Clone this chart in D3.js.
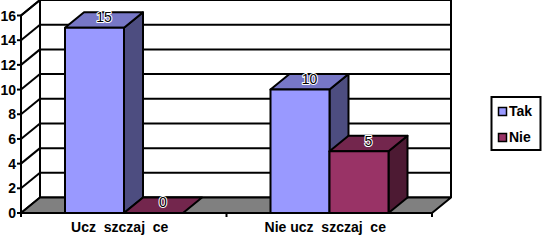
<!DOCTYPE html>
<html><head><meta charset="utf-8">
<script src="https://cdn.jsdelivr.net/npm/d3@7"></script>
<style>
html,body{margin:0;padding:0;background:#fff;}
svg{display:block;font-family:"Liberation Sans",Arial,sans-serif;}
</style></head>
<body><svg id="c" width="543" height="241"></svg>
<script>
const categories = ["Ucz  szczaj  ce", "Nie ucz  szczaj  ce"];
const seriesNames = ["Tak", "Nie"];
const takValues = [15, 10];
const nieValues = [0, 5];
const yTicks = [0, 2, 4, 6, 8, 10, 12, 14, 16];
const frontColors = ["#9999FF", "#993366"];
const topColors = ["#7777C6", "#73264D"];
const sideColors = ["#4D4D80", "#4D1A33"];

const svg = d3.select("#c");
const DX = 19, DY = -15.5;
const x0 = d3.scaleBand().domain(categories).range([21, 432]).padding(0);
const x1 = d3.scaleBand().domain(seriesNames).range([44, 162]).padding(0);
const y = d3.scaleLinear().domain([0, 16]).range([213, 15.5]);
const xL = x0.range()[0], xR = x0.range()[1];

const g = svg.append("g");
// back wall gridlines + left wall diagonals
yTicks.forEach(t => {
  const yy = y(t);
  g.append("line").attr("x1", xL + DX).attr("x2", xR + DX).attr("y1", yy + DY).attr("y2", yy + DY)
    .attr("stroke", "#000").attr("stroke-width", 2);
  g.append("line").attr("x1", xL).attr("x2", xL + DX).attr("y1", yy).attr("y2", yy + DY)
    .attr("stroke", "#000").attr("stroke-width", 2);
});
// wall edges
g.append("line").attr("x1", xL + DX).attr("x2", xL + DX).attr("y1", y(16) + DY).attr("y2", y(0) + DY).attr("stroke", "#000").attr("stroke-width", 2);
g.append("line").attr("x1", xR + DX).attr("x2", xR + DX).attr("y1", y(16) + DY).attr("y2", y(0) + DY).attr("stroke", "#000").attr("stroke-width", 2);
// floor
const floorPts = [[xL, y(0)], [xR, y(0)], [xR + DX, y(0) + DY], [xL + DX, y(0) + DY]];
g.append("polygon").attr("points", floorPts.map(p => p.join(",")).join(" "))
  .attr("fill", "#808080").attr("stroke", "#000").attr("stroke-width", 2).attr("stroke-linejoin", "round");

// bars
const data = categories.map((c, i) => ({cat: c, vals: [takValues[i], nieValues[i]]}));
data.forEach(d => {
  d.vals.forEach((v, si) => {
    const xa = x0(d.cat) + x1(seriesNames[si]);
    const xb = xa + x1.bandwidth();
    const yt = y(v), yb = y(0);
    const bg = g.append("g").attr("stroke", "#000").attr("stroke-width", 2).attr("stroke-linejoin", "round");
    if (v > 0) {
      bg.append("polygon").attr("fill", sideColors[si])
        .attr("points", [[xb, yb], [xb + DX, yb + DY], [xb + DX, yt + DY], [xb, yt]].map(p => p.join(",")).join(" "));
    }
    bg.append("polygon").attr("fill", topColors[si])
      .attr("points", [[xa, yt], [xb, yt], [xb + DX, yt + DY], [xa + DX, yt + DY]].map(p => p.join(",")).join(" "));
    if (v > 0) {
      bg.append("rect").attr("x", xa).attr("y", yt).attr("width", xb - xa).attr("height", yb - yt).attr("fill", frontColors[si]);
    }
  });
});
// value labels (white halo behind, black text on top)
data.forEach(d => {
  d.vals.forEach((v, si) => {
    const xa = x0(d.cat) + x1(seriesNames[si]);
    const cx = xa + x1.bandwidth() / 2 + DX / 2;
    const cy = y(v) + DY / 2;
    g.append("text").attr("x", cx).attr("y", cy + 2).attr("text-anchor", "middle")
      .attr("font-size", 14).attr("fill", "#fff").attr("stroke", "#fff").attr("stroke-width", 2)
      .attr("stroke-linejoin", "round").text(v);
    g.append("text").attr("x", cx).attr("y", cy + 2).attr("text-anchor", "middle")
      .attr("font-size", 14).attr("fill", "#000").text(v);
  });
});

// front axis
g.append("line").attr("x1", xL).attr("x2", xL).attr("y1", y(16)).attr("y2", y(0)).attr("stroke", "#000").attr("stroke-width", 2);
g.append("line").attr("x1", xL).attr("x2", xL + DX).attr("y1", y(16)).attr("y2", y(16) + DY).attr("stroke", "#000").attr("stroke-width", 2);
g.append("line").attr("x1", xL).attr("x2", xR).attr("y1", y(0)).attr("y2", y(0)).attr("stroke", "#000").attr("stroke-width", 2);
yTicks.forEach(t => {
  g.append("line").attr("x1", xL - 4).attr("x2", xL).attr("y1", y(t)).attr("y2", y(t)).attr("stroke", "#000").attr("stroke-width", 2);
  g.append("text").attr("x", xL - 5).attr("y", y(t) + 5).attr("text-anchor", "end")
    .attr("font-size", 14).attr("font-weight", "bold").text(t);
});
[xL, xL + x0.bandwidth(), xR].forEach(xx => {
  g.append("line").attr("x1", xx).attr("x2", xx).attr("y1", y(0)).attr("y2", y(0) + 4).attr("stroke", "#000").attr("stroke-width", 2);
});
categories.forEach(c => {
  g.append("text").attr("x", x0(c) + x0.bandwidth() / 2 - 4).attr("y", 232).attr("text-anchor", "middle")
    .attr("font-size", 14).attr("font-weight", "bold").attr("xml:space", "preserve").style("white-space", "pre").text(c);
});

// legend
const lg = svg.append("g");
lg.append("rect").attr("x", 491.5).attr("y", 97).attr("width", 49).attr("height", 53)
  .attr("fill", "#fff").attr("stroke", "#000").attr("stroke-width", 2);
seriesNames.forEach((s, i) => {
  lg.append("rect").attr("x", 498.5).attr("y", 107.5 + i * 26).attr("width", 8).attr("height", 8)
    .attr("fill", frontColors[i]).attr("stroke", "#000").attr("stroke-width", 1.5);
  lg.append("text").attr("x", 509).attr("y", 116 + i * 26).attr("font-size", 14).attr("font-weight", "bold").text(s);
});
</script></body></html>
